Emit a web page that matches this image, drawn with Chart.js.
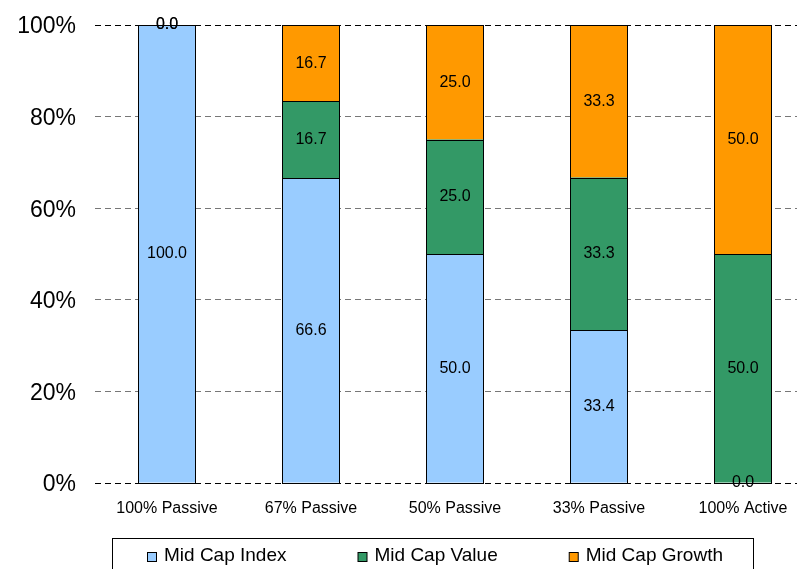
<!DOCTYPE html>
<html>
<head>
<meta charset="utf-8">
<script src="https://cdn.jsdelivr.net/npm/chart.js@4/dist/chart.umd.min.js"></script>
<style>
html,body{margin:0;padding:0;background:#fff;overflow:hidden;width:797px;height:569px;}
canvas{display:block;}
</style>
</head>
<body>
<canvas id="c" width="820" height="569"></canvas>
<script>
const categories = ["100% Passive", "67% Passive", "50% Passive", "33% Passive", "100% Active"];
const midCapIndex  = [100.0, 66.6, 50.0, 33.4, 0.0];
const midCapValue  = [0.0, 16.7, 25.0, 33.3, 50.0];
const midCapGrowth = [0.0, 16.7, 25.0, 33.3, 50.0];
const yTicks = [0, 20, 40, 60, 80, 100];

const FONT = "'Liberation Sans', Arial, sans-serif";

// crisp black outlines around each bar segment, from the library's bar elements
const barOutlines = {
  id: 'barOutlines',
  afterDatasetsDraw(chart) {
    const ctx = chart.ctx;
    ctx.save();
    ctx.strokeStyle = "#000";
    ctx.lineWidth = 1;
    chart.data.datasets.forEach((ds, di) => {
      const meta = chart.getDatasetMeta(di);
      meta.data.forEach(el => {
        const half = el.width / 2;
        const l = Math.round(el.x - half) + 0.5;
        const r = Math.round(el.x + half) - 0.5;
        const t = Math.round(Math.min(el.y, el.base)) + 0.5;
        const b = Math.round(Math.max(el.y, el.base)) + 0.5;
        if (b - t < 0.5) return;
        ctx.strokeRect(l, t, r - l, b - t);
      });
    });
    ctx.restore();
  }
};

const dataLabels = {
  id: 'dataLabels',
  afterDatasetsDraw(chart) {
    const ctx = chart.ctx;
    ctx.save();
    ctx.font = "16px " + FONT;
    ctx.fillStyle = "#000";
    ctx.textAlign = "center";
    ctx.textBaseline = "middle";
    chart.data.datasets.forEach((ds, di) => {
      const meta = chart.getDatasetMeta(di);
      meta.data.forEach((el, i) => {
        const v = ds.data[i];
        ctx.fillText(v.toFixed(1), el.x, (el.y + el.base) / 2);
      });
    });
    ctx.restore();
  }
};

const boxLegend = {
  id: 'boxLegend',
  afterDraw(chart) {
    const ctx = chart.ctx;
    ctx.save();
    const left = 112.5, right = 753.5, top = 538.5, bottom = 580;
    ctx.strokeStyle = "#000";
    ctx.lineWidth = 1;
    ctx.strokeRect(left, top, right - left, bottom - top);
    ctx.font = "19px " + FONT;
    ctx.textBaseline = "alphabetic";
    ctx.textAlign = "left";
    const sq = 9, gapText = 8, gapItem = 71;
    const items = chart.data.datasets.map(ds => ({label: ds.label, color: ds.backgroundColor, w: sq + gapText + ctx.measureText(ds.label).width}));
    const total = items.reduce((s, it) => s + it.w, 0) + gapItem * (items.length - 1);
    let x = Math.round((left + right) / 2 - total / 2) + 2;
    const baseline = 561;
    items.forEach(it => {
      ctx.fillStyle = it.color;
      ctx.fillRect(x + 0.5, baseline - sq + 0.5, sq, sq);
      ctx.strokeStyle = "#000";
      ctx.strokeRect(x + 0.5, baseline - sq + 0.5, sq, sq);
      ctx.fillStyle = "#000";
      ctx.fillText(it.label, x + sq + gapText, baseline);
      x += it.w + gapItem;
    });
    ctx.restore();
  }
};

new Chart(document.getElementById('c'), {
  type: 'bar',
  data: {
    labels: categories,
    datasets: [
      {label: "Mid Cap Index", data: midCapIndex, backgroundColor: "#99CCFF", borderWidth: 0},
      {label: "Mid Cap Value", data: midCapValue, backgroundColor: "#339966", borderWidth: 0},
      {label: "Mid Cap Growth", data: midCapGrowth, backgroundColor: "#FF9900", borderWidth: 0}
    ]
  },
  options: {
    responsive: false,
    animation: false,
    layout: {padding: {top: 25, right: 5, bottom: 0, left: 0}},
    plugins: {legend: {display: false}, tooltip: {enabled: false}},
    datasets: {bar: {barPercentage: 58 / 144, categoryPercentage: 1.0}},
    scales: {
      x: {
        stacked: true,
        grid: {display: false, drawTicks: false},
        border: {display: false},
        ticks: {color: "#000", font: {family: FONT, size: 16}, padding: 16, maxRotation: 0, autoSkip: false},
        afterFit(s) { s.height = 86; s.paddingLeft = 0; s.paddingRight = 0; }
      },
      y: {
        stacked: true,
        min: 0, max: 100,
        afterBuildTicks(s) { s.ticks = yTicks.map(v => ({value: v})); },
        grid: {
          drawTicks: false,
          color: ctx => (ctx.tick && (ctx.tick.value === 0 || ctx.tick.value === 100)) ? "#000" : "#777",
          lineWidth: 1
        },
        border: {display: false, dash: [6, 4]},
        ticks: {color: "#000", font: {family: FONT, size: 23}, padding: 19, labelOffset: 2, callback: v => v + "%"},
        afterFit(s) { s.width = 95; s.paddingTop = 0; s.paddingBottom = 0; }
      }
    }
  },
  plugins: [barOutlines, dataLabels, boxLegend]
});
</script>
</body>
</html>
